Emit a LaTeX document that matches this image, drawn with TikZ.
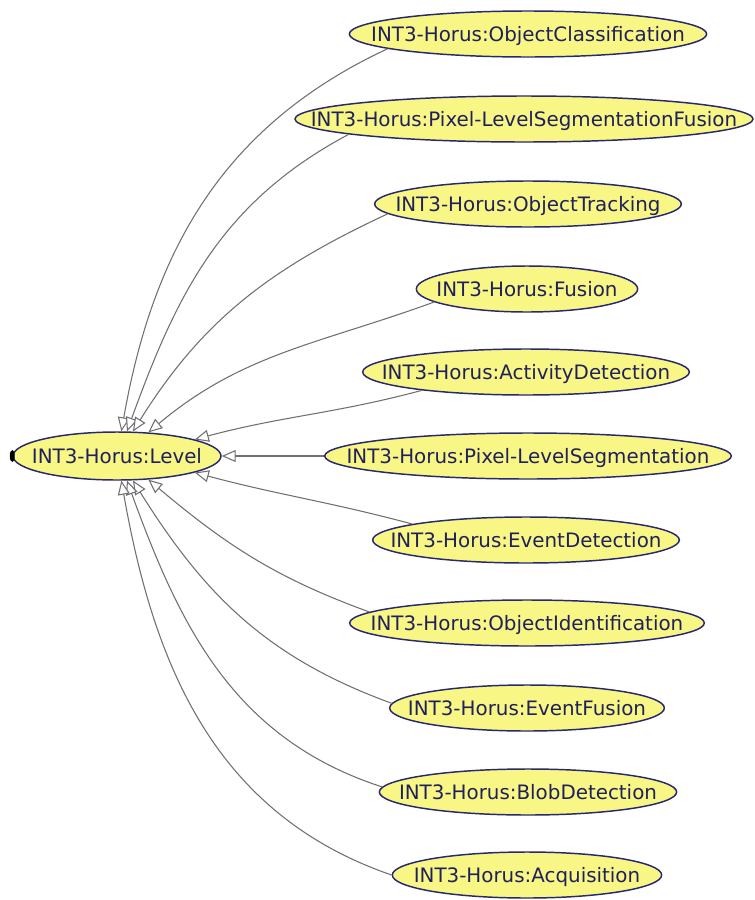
\documentclass[tikz,border=0pt]{standalone}
\usepackage{fontspec}
\newfontfamily\horusfont{DejaVu Sans}
\usetikzlibrary{shapes.geometric,arrows.meta}

\definecolor{clsfill}{RGB}{248,246,132}
\definecolor{clsline}{RGB}{40,40,112}
\definecolor{clstext}{RGB}{32,32,92}
\definecolor{isagray}{RGB}{112,112,112}

\tikzset{every picture/.style={line width=0.75pt}}
\tikzset{
  cls/.style={ellipse, draw=clsline, line width=1.1pt, fill=clsfill, text=clstext,
    font=\horusfont\fontsize{14.9}{18}\selectfont, text height=11pt, text depth=0pt,
    inner xsep=-300pt, inner ysep=-60pt, minimum height=34.5pt},
  isa/.style={draw=isagray, line width=0.8pt, -{Triangle[length=10.5pt, width=9pt, fill=white]}},
}

\begin{document}
\begin{tikzpicture}[x=0.75pt,y=0.75pt,yscale=-1,xscale=1]
	\useasboundingbox (0,0) rectangle (754,900);
	
	% Text Node
	\node[cls, minimum width=156pt, minimum height=36pt] (lvl) at (117,456) {INT3-Horus:Level};
	\fill[black] (lvl.west) ellipse (2.5 and 6);
	
	% Text Node
	\node[cls, minimum width=268pt] (oc) at (528,34) {INT3-Horus:ObjectClassification};
	% Text Node
	\node[cls, minimum width=343.5pt] (plsf) at (524,119) {INT3-Horus:Pixel-LevelSegmentationFusion};
	% Text Node
	\node[cls, minimum width=230pt] (ot) at (528,204) {INT3-Horus:ObjectTracking};
	% Text Node
	\node[cls, minimum width=166pt] (fus) at (527,289) {INT3-Horus:Fusion};
	% Text Node
	\node[cls, minimum width=245pt] (ad) at (526,372) {INT3-Horus:ActivityDetection};
	% Text Node
	\node[cls, minimum width=305pt] (pls) at (528,456) {INT3-Horus:Pixel-LevelSegmentation};
	% Text Node
	\node[cls, minimum width=230pt] (ed) at (526,540) {INT3-Horus:EventDetection};
	% Text Node
	\node[cls, minimum width=266pt] (oi) at (527,623) {INT3-Horus:ObjectIdentification};
	% Text Node
	\node[cls, minimum width=206pt] (ef) at (527,708) {INT3-Horus:EventFusion};
	% Text Node
	\node[cls, minimum width=223pt] (bd) at (528,792) {INT3-Horus:BlobDetection};
	% Text Node
	\node[cls, minimum width=202pt] (acq) at (527,875) {INT3-Horus:Acquisition};
	
	%Curves [subclass -> Level]
	\draw[isa] (oc.186) to[out=155,in=-80] (lvl.80);
	\draw[isa] (plsf.185) to[out=152,in=-70] (lvl.68);
	\draw[isa] (ot.184) to[out=155,in=-58] (lvl.57);
	\draw[isa] (fus.188) to[out=160,in=-40] (lvl.37);
	\draw[isa] (ad.190) to[out=165,in=-15] (lvl.12);
	%Straight Lines
	\draw[isa] (pls) -- (lvl);
	\draw[isa] (ed.172) to[out=195,in=15] (lvl.-12);
	\draw[isa] (oi.176) to[out=200,in=40] (lvl.-37);
	\draw[isa] (ef.178) to[out=200,in=58] (lvl.-57);
	\draw[isa] (bd.178) to[out=198,in=70] (lvl.-68);
	\draw[isa] (acq.180) to[out=199,in=80] (lvl.-80);
	
\end{tikzpicture}
\end{document}
